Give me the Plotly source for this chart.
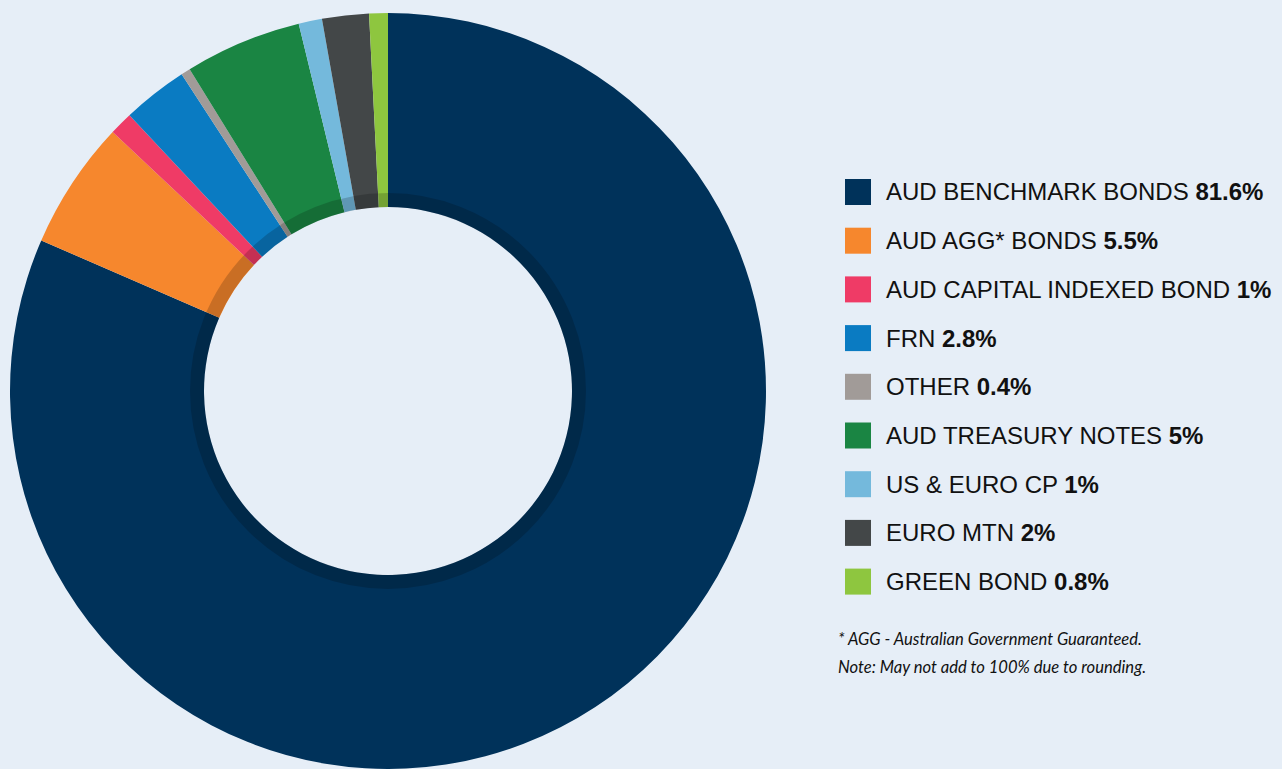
import plotly.graph_objects as go

labels = ["AUD BENCHMARK BONDS", "AUD AGG* BONDS", "AUD CAPITAL INDEXED BOND", "FRN",
          "OTHER", "AUD TREASURY NOTES", "US & EURO CP", "EURO MTN", "GREEN BOND"]
values = [81.6, 5.5, 1, 2.8, 0.4, 5, 1, 2, 0.8]
value_text = ["81.6%", "5.5%", "1%", "2.8%", "0.4%", "5%", "1%", "2%", "0.8%"]
colors = ["#00325A", "#F6872D", "#EF3B66", "#0A7BC2", "#A19B98",
          "#1A8543", "#74B9DC", "#434748", "#8EC63F"]
footnotes = ["* AGG - Australian Government Guaranteed.",
             "Note: May not add to 100% due to rounding."]

W, H = 1282, 769
BG = "#E6EEF7"

def px(x):
    return x / W

def py(y):
    return 1 - y / H

cx, cy, R = 388, 391, 378
hole_r = 184

fig = go.Figure()
fig.add_trace(go.Pie(
    labels=labels, values=values, sort=False, direction="clockwise", rotation=0,
    hole=hole_r / R, marker=dict(colors=colors, line=dict(width=0)),
    textinfo="none", showlegend=False,
    domain=dict(x=[px(cx - R), px(cx + R)], y=[0, py(cy - R)]),
))

shapes = []
# darker inner ring
rr = hole_r + 7
shapes.append(dict(type="circle", xref="paper", yref="paper",
                   x0=px(cx - rr), x1=px(cx + rr), y0=py(cy + rr), y1=py(cy - rr),
                   line=dict(color="rgba(0,0,0,0.18)", width=14), fillcolor="rgba(0,0,0,0)",
                   layer="above"))

annotations = []
y0, dy = 192, 48.7
for i, (lab, vt, col) in enumerate(zip(labels, value_text, colors)):
    yc = y0 + i * dy
    shapes.append(dict(type="rect", xref="paper", yref="paper",
                       x0=px(845), x1=px(871), y0=py(yc + 13), y1=py(yc - 13),
                       fillcolor=col, line=dict(width=0)))
    annotations.append(dict(xref="paper", yref="paper", x=px(884), y=py(yc),
                            xanchor="left", yanchor="middle", showarrow=False,
                            text=f"{lab} <b>{vt}</b>",
                            font=dict(family="Liberation Sans Narrow, Arial Narrow, Liberation Sans, sans-serif",
                                      size=24, color="#111111")))

for j, t in enumerate(footnotes):
    annotations.append(dict(xref="paper", yref="paper", x=px(836), y=py(639 + j * 28),
                            xanchor="left", yanchor="middle", showarrow=False,
                            text=f"<i>{t}</i>",
                            font=dict(family="Lato, Open Sans, sans-serif", size=16.6, color="#111111")))

fig.update_layout(width=W, height=H, margin=dict(l=0, r=0, t=0, b=0),
                  paper_bgcolor=BG, plot_bgcolor=BG, shapes=shapes, annotations=annotations)

fig.write_html("out.html")
